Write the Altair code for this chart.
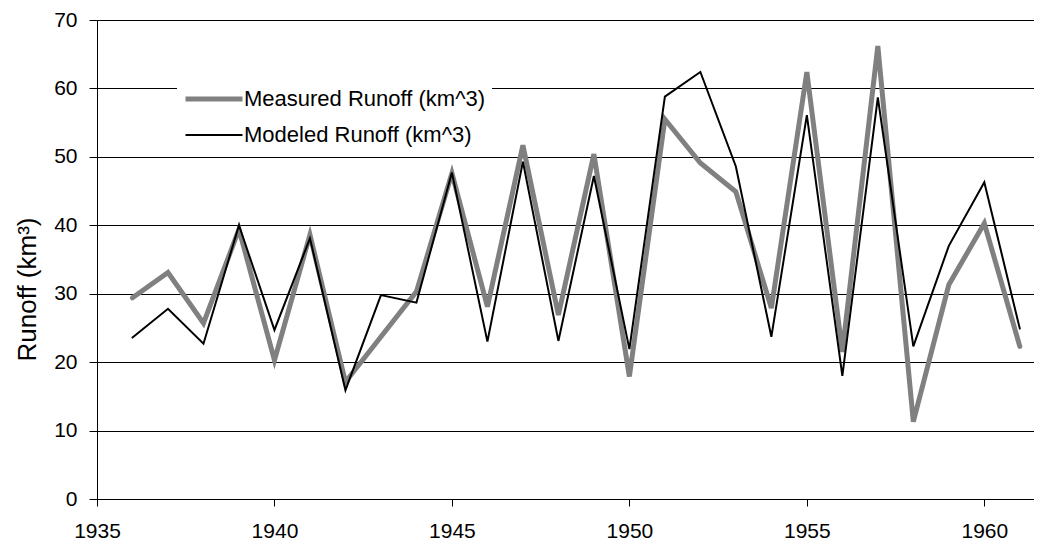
import altair as alt
import pandas as pd

years = list(range(1936, 1962))
measured = [29.4, 33.1, 25.7, 39.4, 20.3, 38.6, 17.1, 23.7, 30.3, 47.6,
            28.1, 51.7, 26.9, 50.4, 17.9, 55.5, 49.1, 44.9, 27.9, 62.4,
            21.5, 66.2, 11.3, 31.3, 40.3, 22.3]
modeled = [23.6, 27.8, 22.7, 40.0, 24.7, 38.1, 15.9, 29.8, 28.7, 47.7,
           23.0, 49.3, 23.1, 47.2, 21.9, 58.8, 62.4, 48.6, 23.7, 56.1,
           18.0, 58.7, 22.3, 37.0, 46.3, 24.9]
series_names = ["Measured Runoff (km^3)", "Modeled Runoff (km^3)"]
series_colors = ["#808080", "#000000"]
series_widths = [5, 2]
x_ticks = [1935, 1940, 1945, 1950, 1955, 1960]
y_ticks = [0, 10, 20, 30, 40, 50, 60, 70]

rows = []
for y, m, d in zip(years, measured, modeled):
    rows.append({"Year": y, "Runoff": m, "Series": series_names[0]})
    rows.append({"Year": y, "Runoff": d, "Series": series_names[1]})
df = pd.DataFrame(rows)

FONT = "Liberation Sans"

legend_opts = dict(
    title=None, orient="none", legendX=80, legendY=61,
    fillColor="white", padding=6,
    symbolType="M-3,0H3", symbolSize=361,
    symbolOffset=19, labelOffset=18,
    labelFontSize=22, labelFont=FONT, labelColor="#000",
    rowPadding=14, labelLimit=400,
)

chart = alt.Chart(df).mark_line(strokeJoin="miter", strokeCap="round").encode(
    x=alt.X("Year:Q",
            scale=alt.Scale(domain=[1935, 1961.4], nice=False, zero=False),
            axis=alt.Axis(values=x_ticks, format="d", title=None, grid=False,
                          tickSize=7, tickColor="#000", domainColor="#000",
                          labelFontSize=21, labelColor="#000", labelFont=FONT,
                          labelPadding=14, labelFlush=False)),
    y=alt.Y("Runoff:Q",
            scale=alt.Scale(domain=[0, 70], nice=False),
            axis=alt.Axis(values=y_ticks, title="Runoff (km³)", grid=True,
                          gridColor="#000", gridWidth=1,
                          tickSize=8, tickColor="#000", domainColor="#000",
                          labelFontSize=21, labelColor="#000", labelFont=FONT,
                          labelPadding=12,
                          titleFontSize=26, titleFont=FONT, titleFontWeight="normal",
                          titleColor="#000", titleX=-70, titleY=269,
                          titleBaseline="middle", titleAngle=-90)),
    color=alt.Color("Series:N",
                    scale=alt.Scale(domain=series_names, range=series_colors),
                    legend=alt.Legend(**legend_opts)),
    strokeWidth=alt.StrokeWidth("Series:N",
                                scale=alt.Scale(domain=series_names, range=series_widths),
                                legend=alt.Legend(**legend_opts)),
).properties(
    width=937, height=479,
    padding={"left": 89, "top": 12, "right": 0, "bottom": 43},
    autosize=alt.AutoSizeParams(type="none"),
).configure_view(stroke=None)

chart.save("out.html", embed_options={"renderer": "svg", "actions": False})
